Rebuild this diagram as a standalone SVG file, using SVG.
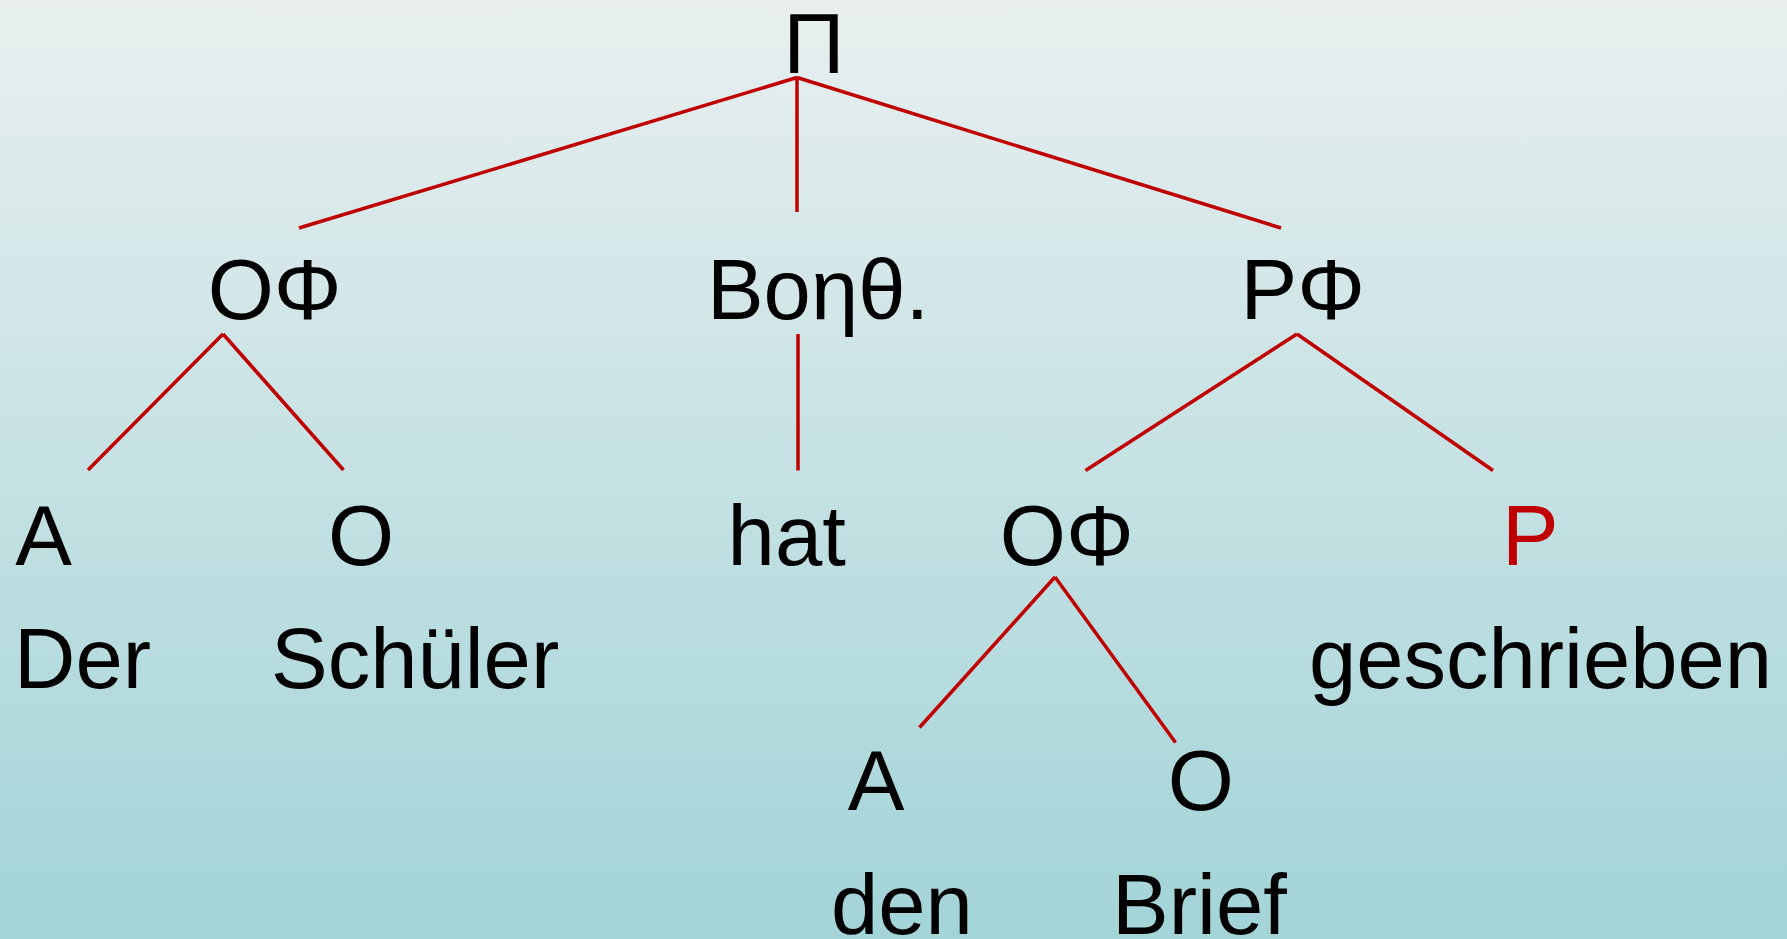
<svg xmlns="http://www.w3.org/2000/svg" width="1787" height="939" viewBox="0 0 1787 939">
  <defs>
    <linearGradient id="bg" x1="0" y1="0" x2="0" y2="1">
      <stop offset="0" stop-color="#e9efef"/>
      <stop offset="1" stop-color="#a2d4d8"/>
    </linearGradient>
  </defs>
  <style>
    text { font-family: "Liberation Sans", Arial, sans-serif; font-size: 85px; fill: #000000; }
    .mid { text-anchor: middle; }
    .red { fill: #c00000; }
    .edge { stroke: #c00000; stroke-width: 3.5; fill: none; stroke-linecap: butt; }
  </style>
  <rect x="0" y="0" width="1787" height="939" fill="url(#bg)"/>

  <g id="connectors">
    <line class="edge" x1="797" y1="77.5" x2="299" y2="228"/>
    <line class="edge" x1="797" y1="77.5" x2="797" y2="212"/>
    <line class="edge" x1="797" y1="77.5" x2="1281" y2="228"/>
    <line class="edge" x1="223" y1="334" x2="88" y2="470"/>
    <line class="edge" x1="223" y1="334" x2="343.5" y2="470"/>
    <line class="edge" x1="798" y1="334" x2="798" y2="470.5"/>
    <line class="edge" x1="1297" y1="334" x2="1085.5" y2="470.5"/>
    <line class="edge" x1="1297" y1="334" x2="1493" y2="470.5"/>
    <line class="edge" x1="1055" y1="577" x2="919.5" y2="727.5"/>
    <line class="edge" x1="1055" y1="577" x2="1175.5" y2="742.5"/>
  </g>

  <g id="node-pi"><text class="mid" x="814" y="73">Π</text></g>
  <g id="node-of1"><text class="mid" x="274.6" y="319">ΟΦ</text></g>
  <g id="node-boith"><text class="mid" x="818" y="319">Boηθ.</text></g>
  <g id="node-rf"><text class="mid" x="1302.7" y="319">ΡΦ</text></g>
  <g id="node-a1"><text class="mid" x="43.6" y="565">A</text></g>
  <g id="node-o1"><text class="mid" x="361" y="565">O</text></g>
  <g id="node-hat"><text class="mid" x="786.7" y="565">hat</text></g>
  <g id="node-of2"><text class="mid" x="1066.8" y="565">ΟΦ</text></g>
  <g id="node-p"><text class="red" x="1502" y="565">P</text></g>
  <g id="node-der"><text x="14" y="688">Der</text></g>
  <g id="node-schueler"><text x="271" y="688">Schüler</text></g>
  <g id="node-geschrieben"><text x="1309" y="688">geschrieben</text></g>
  <g id="node-a2"><text class="mid" x="876" y="810">A</text></g>
  <g id="node-o2"><text class="mid" x="1200.7" y="810">O</text></g>
  <g id="node-den"><text x="831" y="934">den</text></g>
  <g id="node-brief"><text x="1112" y="934">Brief</text></g>
</svg>
